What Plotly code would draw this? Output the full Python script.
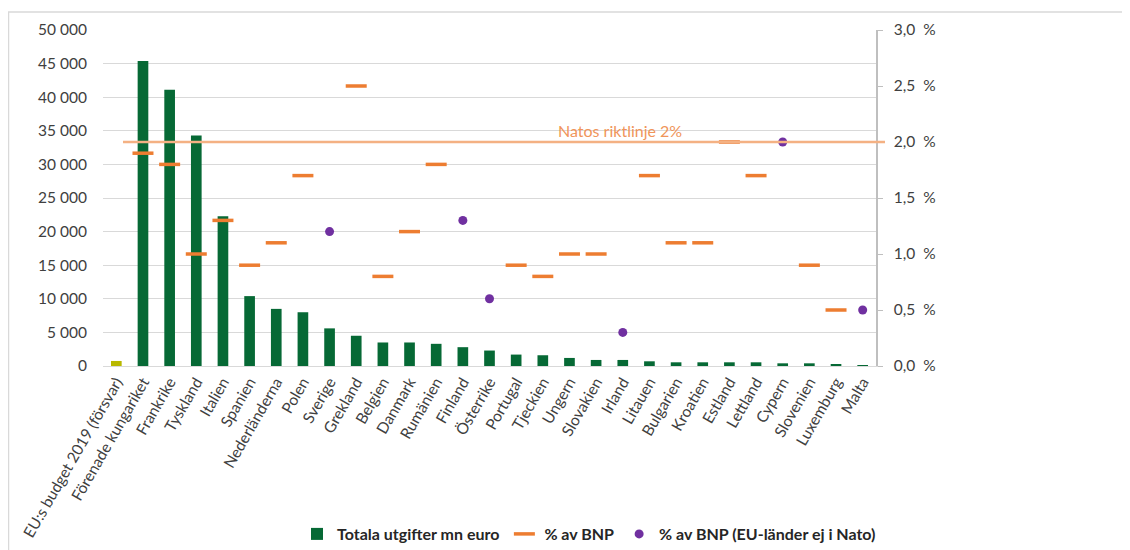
import plotly.graph_objects as go

categories = ["EU:s budget 2019 (försvar)", "Förenade kungariket", "Frankrike", "Tyskland", "Italien",
              "Spanien", "Nederländerna", "Polen", "Sverige", "Grekland", "Belgien", "Danmark",
              "Rumänien", "Finland", "Österrike", "Portugal", "Tjeckien", "Ungern", "Slovakien",
              "Irland", "Litauen", "Bulgarien", "Kroatien", "Estland", "Lettland", "Cypern",
              "Slovenien", "Luxemburg", "Malta"]

spend = [750, 45400, 41100, 34300, 22300, 10400, 8500, 8000, 5600, 4500, 3500, 3500,
         3300, 2800, 2300, 1700, 1600, 1200, 900, 900, 700, 550, 550, 550, 550, 400,
         400, 250, 100]

pct_nato = [None, 1.9, 1.8, 1.0, 1.3, 0.9, 1.1, 1.7, None, 2.5, 0.8, 1.2,
            1.8, None, None, 0.9, 0.8, 1.0, 1.0, None, 1.7, 1.1, 1.1, 2.0, 1.7, None,
            0.9, 0.5, None]

pct_non_nato = [None, None, None, None, None, None, None, None, 1.2, None, None, None,
                None, 1.3, 0.6, None, None, None, None, 0.3, None, None, None, None, None, 2.0,
                None, None, 0.5]

nato_target = 2.0
y1_max = 50000
y2_max = 3.0

W, H = 1130, 550
OFF = 8  # page body margin offset
ml, mt = 103 - OFF, 30 - OFF
mr = W - (876 - OFF)
mb = H - (366 - OFF)
pw, ph = W - ml - mr, H - mt - mb


def px_x(sx):
    return (sx - OFF - ml) / pw


def px_y(sy):
    return (H - mb - (sy - OFF)) / ph


FONT = "Lato, Carlito, Calibri, sans-serif"
TXT = "#404040"

fig = go.Figure()

fig.add_trace(go.Bar(x=categories[:1], y=spend[:1], marker=dict(color="#B8B800", line=dict(width=0)),
                     width=0.4, showlegend=False, hoverinfo="skip"))
fig.add_trace(go.Bar(x=categories[1:], y=spend[1:], name="Totala utgifter mn euro",
                     marker=dict(color="#066935", line=dict(width=0)), width=0.4))

fig.add_trace(go.Scatter(x=categories, y=pct_nato, yaxis="y2", mode="markers", name="% av BNP",
                         marker=dict(symbol="line-ew", size=15, color="#ED7D31",
                                     line=dict(color="#ED7D31", width=3.5))))
fig.add_trace(go.Scatter(x=categories, y=pct_non_nato, yaxis="y2", mode="markers",
                         name="% av BNP (EU-länder ej i Nato)",
                         marker=dict(symbol="circle", size=9, color="#7030A0")))

fig.add_shape(type="line", xref="paper", yref="paper", x0=px_x(123), x1=px_x(885),
              y0=nato_target / y2_max, y1=nato_target / y2_max,
              line=dict(color="#F4B183", width=2.5), layer="above")

fig.add_annotation(text="Natos riktlinje 2%", xref="paper", yref="paper",
                   x=px_x(620), xanchor="center", y=nato_target / y2_max, yanchor="bottom", yshift=0,
                   showarrow=False, font=dict(family=FONT, size=16, color="#F0955A"))

# chart border (top and left)
fig.add_shape(type="line", xref="paper", yref="paper",
              x0=px_x(8), x1=px_x(W + OFF), y0=px_y(12), y1=px_y(12),
              line=dict(color="#D9D9D9", width=1.5))
fig.add_shape(type="line", xref="paper", yref="paper",
              x0=px_x(8.5), x1=px_x(8.5), y0=px_y(12), y1=px_y(H + OFF),
              line=dict(color="#D9D9D9", width=1.5))

fig.update_layout(
    width=W, height=H,
    margin=dict(l=ml, r=mr, t=mt, b=mb, autoexpand=False),
    paper_bgcolor="white", plot_bgcolor="white",
    separators=", ",
    barmode="overlay",
    font=dict(family=FONT, size=15, color=TXT),
    xaxis=dict(tickangle=-60, showgrid=False, showline=True, linecolor="#D9D9D9", linewidth=1,
               tickfont=dict(size=15.5, color=TXT), ticks="", categoryorder="array",
               categoryarray=categories, range=[-0.5, len(categories) - 0.5], automargin=False),
    yaxis=dict(range=[0, y1_max], dtick=5000, tickformat=",d", showgrid=True, gridcolor="#D9D9D9",
               gridwidth=1, zeroline=False, showline=False, ticks="", ticklabelstandoff=15,
               tickfont=dict(size=15.5, color=TXT), automargin=False),
    yaxis2=dict(overlaying="y", side="right", range=[0, y2_max], dtick=0.5, tickformat=".1f",
                ticksuffix="  %", showgrid=False, zeroline=False, showline=True, linecolor="#BFBFBF",
                linewidth=1.5, ticks="outside", ticklen=5, tickcolor="#BFBFBF", ticklabelstandoff=8,
                tickfont=dict(size=15.5, color=TXT), automargin=False),
    legend=dict(orientation="h", x=px_x(589), xanchor="center", y=px_y(534),
                yanchor="middle", font=dict(family=FONT, size=16, color="#262626", weight="bold"),
                itemwidth=30, traceorder="normal"),
)

fig.write_html("out.html")
